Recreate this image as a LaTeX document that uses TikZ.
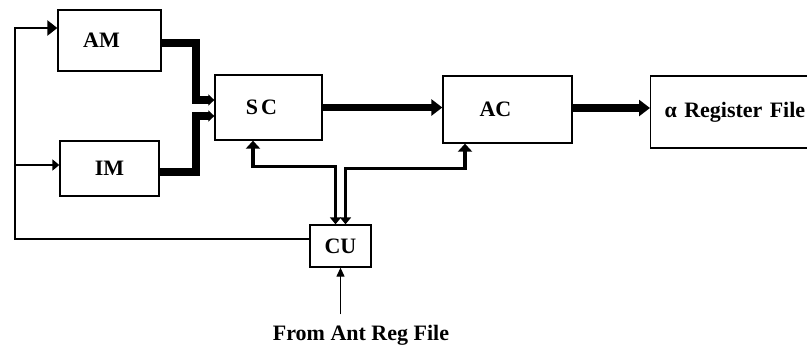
\documentclass[tikz,border=0pt]{standalone}
\usepackage{fontspec}
\setmainfont{Liberation Serif}
\usetikzlibrary{arrows.meta,calc}

\begin{document}
\begin{tikzpicture}[
  x=1pt,
  y=-1pt,
  every node/.style={
    font=\fontsize{22}{25}\selectfont\bfseries,
    text=black
  },
  block/.style={
    draw=black,
    line width=1.3pt,
    rectangle,
    fill=white,
    align=center,
    inner sep=0pt
  },
  bus/.style={
    -{Triangle[length=11pt,width=16pt]},
    draw=black,
    line width=7.5pt
  },
  busin/.style={
    -{Triangle[length=6pt,width=11pt]},
    draw=black,
    line width=8pt
  },
  ctrl/.style={
    {Triangle[length=8pt,width=14pt]}-{Triangle[length=7pt,width=11pt]},
    draw=black,
    line width=3.5pt
  },
  back/.style={
    draw=black,
    line width=2.5pt
  },
  thinarrow/.style={
    -{Triangle[length=9pt,width=8pt]},
    draw=black,
    line width=1.2pt
  }
]
  \clip (0,0) rectangle (807,349);

  \node[block, minimum width=103pt, minimum height=61pt] (am) at (109.5,40.5) {AM\hspace*{16pt}};
  \node[block, minimum width=99pt, minimum height=55pt] (im) at (109.5,168.5) {IM};
  \node[block, minimum width=107pt, minimum height=65pt] (sc) at (268.5,107.5) {S\kern3pt C\hspace*{14pt}};
  \node[block, minimum width=129pt, minimum height=67pt] (ac) at (507.5,109.5) {AC\hspace*{24pt}};
  \node[block, anchor=west, minimum width=184pt, minimum height=72pt,
    inner xsep=14pt, text width=156pt, align=left] (regfile) at (650,112)
    {α Register File};
  \node[block, minimum width=61pt, minimum height=42pt] (cu) at (340.5,246) {CU};
  \node (antreg) at (361,335) {From Ant Reg File};

  \coordinate (turn) at (15,239);

  \draw[busin] ([yshift=-2pt]am.east) -- ++(34,0) |- ([yshift=7.5pt]sc.west);
  \draw[busin] ([yshift=-3.5pt]im.east) -- ++(36,0) |- ([yshift=-8.5pt]sc.west);
  \draw[bus] (sc.east) -- (sc.east -| ac.west);
  \draw[bus] ([yshift=1.5pt]ac.east) -- ([yshift=1.5pt]ac.east -| regfile.west);

  \draw[back, -{Triangle[length=10pt,width=15pt]}]
    ([yshift=7pt]cu.west) -- (turn) |- ([yshift=12.5pt]am.west);
  \draw[back, -{Triangle[length=7pt,width=11pt]}]
    ([yshift=3.5pt]im.west -| turn) -- ([yshift=3.5pt]im.west);

  \draw[ctrl] ([xshift=-15.5pt]sc.south) -- ++(0,26) -| ([xshift=-5pt]cu.north);
  \draw[ctrl] ([xshift=-42.5pt]ac.south) -- ++(0,25) -| ([xshift=5pt]cu.north);

  \draw[thinarrow] ($(antreg.north -| cu.south)+(0,-7)$) -- (cu.south);
\end{tikzpicture}
\end{document}
